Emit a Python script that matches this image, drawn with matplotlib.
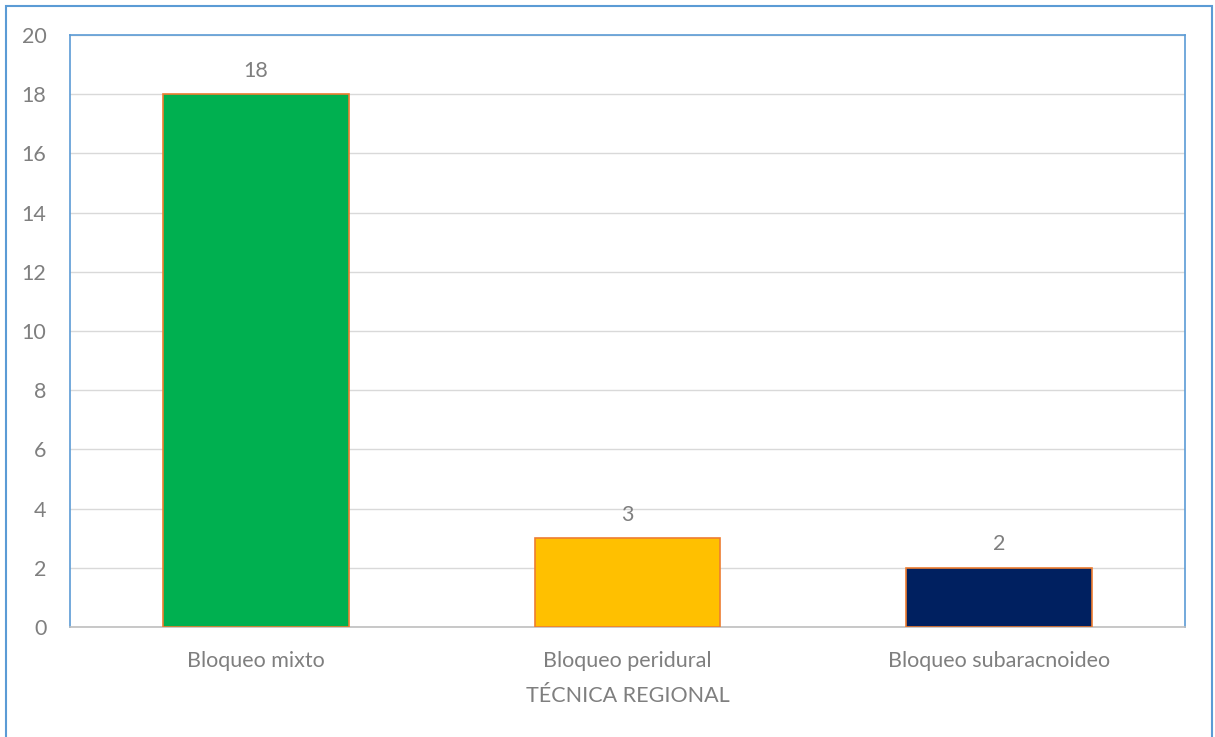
import matplotlib.pyplot as plt
from matplotlib.patches import Rectangle

# Data
categorias = ['Bloqueo mixto', 'Bloqueo peridural', 'Bloqueo subaracnoideo']
valores = [18, 3, 2]
colores = ['#00B050', '#FFC000', '#002060']

plt.rcParams['font.family'] = ['Lato', 'DejaVu Sans']
gris = '#7F7F7F'
azul = '#5B9BD5'
fs = 15.5

fig = plt.figure(figsize=(12.15, 7.37), dpi=100)
ax = fig.add_axes([70 / 1215, 110 / 737, 1115 / 1215, 592 / 737])

# Bars
x = range(len(categorias))
barras = ax.bar(x, valores, width=0.5, color=colores, edgecolor='#ED7D31', linewidth=1.2, zorder=3)
for b, v in zip(barras, valores):
    ax.text(b.get_x() + b.get_width() / 2, v + 0.45, str(v), ha='center', va='bottom',
            fontsize=fs, color=gris)

# Axes
ax.set_xlim(-0.5, len(categorias) - 0.5)
ax.set_ylim(0, 20)
ax.set_yticks(range(0, 21, 2))
ax.set_xticks(list(x))
ax.set_xticklabels(categorias)
ax.tick_params(axis='both', length=0, labelsize=fs, labelcolor=gris)
ax.tick_params(axis='x', pad=17)
ax.tick_params(axis='y', pad=17)
ax.grid(axis='y', color='#D9D9D9', linewidth=1, zorder=0)
for s in ['left', 'top', 'right']:
    ax.spines[s].set_color(azul)
    ax.spines[s].set_linewidth(1.2)
ax.spines['bottom'].set_color('#BFBFBF')
ax.spines['bottom'].set_linewidth(1.2)
ax.set_xlabel('TÉCNICA REGIONAL', fontsize=fs, color=gris, labelpad=11)

# Outer border
fig.patches.append(Rectangle((6 / 1215, -0.01), 1206 / 1215, 1 - 6 / 737 + 0.01,
                             transform=fig.transFigure, fill=False,
                             edgecolor=azul, linewidth=1.5))

fig.savefig('out.png', dpi=100)
